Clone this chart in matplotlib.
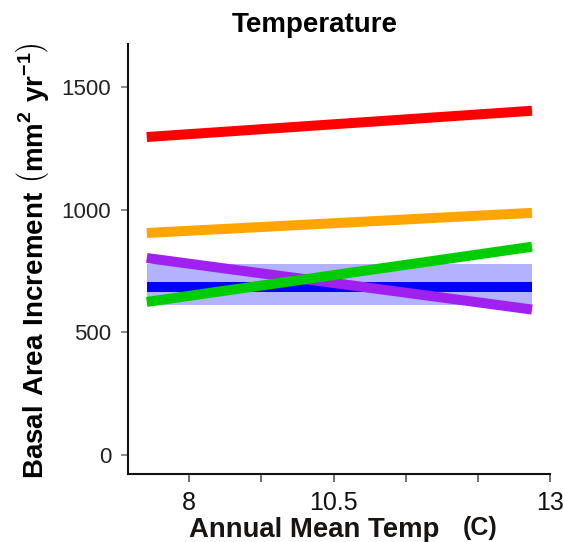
import numpy as np
import matplotlib.pyplot as plt

plt.rcParams['font.family'] = ['Liberation Sans', 'DejaVu Sans']
plt.rcParams['mathtext.fontset'] = 'custom'
plt.rcParams['mathtext.rm'] = 'Liberation Sans'
plt.rcParams['mathtext.bf'] = 'Liberation Sans:bold'

# fitted lines: value at the low and high end of the temperature range
temp_range = [7.41, 12.75]
red_fit = [1296, 1403]
orange_fit = [905, 987]
green_fit = [624, 849]
purple_fit = [803, 593]
blue_fit = [685, 685]

# confidence bands (lower, upper) at the two ends
blue_lo = [612, 612]
blue_hi = [780, 780]
green_lo = [620, 836]
green_hi = [628, 864]
red_lo = [1290, 1396]
red_hi = [1303, 1411]
orange_lo = [900, 982]
orange_hi = [910, 993]
purple_lo = [797, 586]
purple_hi = [809, 600]

x_ticks = [8, 9, 10, 11, 12, 13]
x_tick_labels = ["8", "", "10.5", "", "", "13"]
y_ticks = [0, 500, 1000, 1500]

fig = plt.figure(figsize=(5.63, 5.42), dpi=100)
ax = fig.add_axes([128 / 563, 1 - 474 / 542, 422 / 563, 430 / 542])

x = np.array(temp_range)
ax.fill_between(x, blue_lo, blue_hi, color='#0000ff', alpha=0.3, lw=0)
for lo, hi, c in [(red_lo, red_hi, '#ff0000'), (orange_lo, orange_hi, '#ffa500'),
                  (green_lo, green_hi, '#00cd00'), (purple_lo, purple_hi, '#a020f0')]:
    ax.fill_between(x, lo, hi, color=c, alpha=0.18, lw=0)

lw = 7.2
ax.plot(x, red_fit, color='#ff0000', lw=lw, solid_capstyle='butt')
ax.plot(x, orange_fit, color='#ffa500', lw=lw, solid_capstyle='butt')
ax.plot(x, blue_fit, color='#0000ff', lw=lw, solid_capstyle='butt')
ax.plot(x, purple_fit, color='#a020f0', lw=lw, solid_capstyle='butt')
ax.plot(x, green_fit, color='#00cd00', lw=lw, solid_capstyle='butt')

ax.set_xlim(7.15, 13.0)
ax.set_ylim(-77, 1675)

ax.set_xticks(x_ticks)
ax.set_xticklabels(x_tick_labels)
ax.set_yticks(y_ticks)

for side in ['top', 'right']:
    ax.spines[side].set_visible(False)
for side in ['left', 'bottom']:
    ax.spines[side].set_linewidth(1.5)
    ax.spines[side].set_color('#111111')

ax.tick_params(axis='x', length=6, width=1.2, color='#555555', pad=6,
               labelsize=18, labelcolor='#111111')
ax.tick_params(axis='y', length=5, width=1.2, color='#777777', pad=7,
               labelsize=16, labelcolor='#222222')

fig.text(315 / 563, 1 - 25 / 542, "Temperature", ha='center', va='center',
         fontsize=20, fontweight='bold')
fig.text(314 / 563, 1 - 530 / 542, "Annual Mean Temp", ha='center', va='center',
         fontsize=19.8, fontweight='bold', color='#1a1410')
fig.text(480 / 563, 1 - 528 / 542, "(C)", ha='center', va='center',
         fontsize=18, fontweight='bold', color='#1a1410')
fig.text(33 / 563, 1 - 261 / 542,
         r"$\mathbf{Basal\ Area\ Increment}\ \left(\mathbf{mm}^{\mathbf{2}}\ \mathbf{yr}^{\mathbf{-1}}\right)$",
         rotation=90, ha='center', va='center', fontsize=20)

fig.savefig("out.png", dpi=100)
